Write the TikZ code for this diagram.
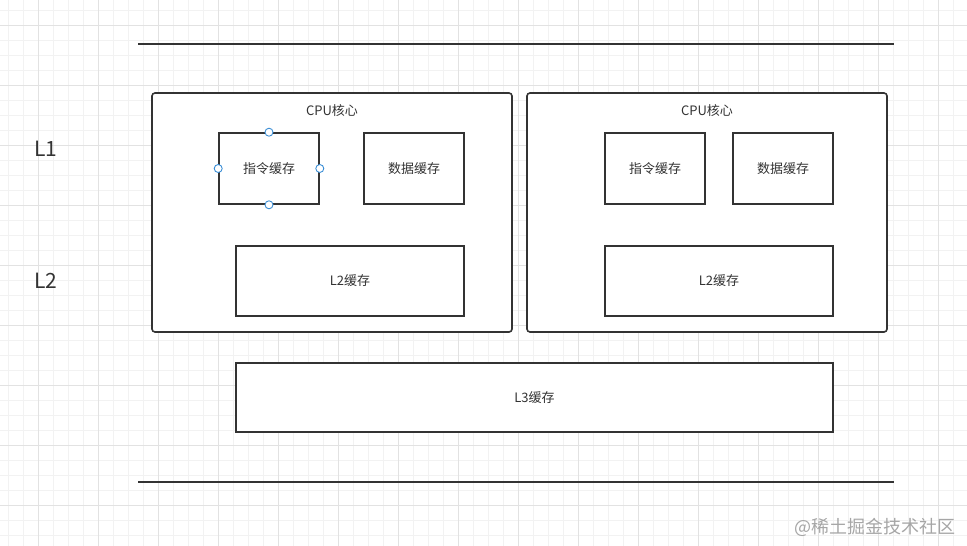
\documentclass[tikz,border=0pt]{standalone}
\usepackage{fontspec}
\setmainfont{Noto Sans CJK SC}
\usepackage{tikz}
\usetikzlibrary{positioning}
\definecolor{inkgray}{HTML}{333333}
\definecolor{gridminor}{HTML}{F2F2F2}
\definecolor{gridmajor}{HTML}{E2E2E2}
\definecolor{handleblue}{HTML}{3D8FD6}

\begin{document}
\begin{tikzpicture}[
			x=1pt, y=-1pt,
			core/.style  = {draw=inkgray, line width=1.6pt, fill=white, rounded corners=3pt, minimum width=360pt, minimum height=239pt},
			cache/.style = {draw=inkgray, line width=1.6pt, fill=white, font=\fontsize{13}{15}\selectfont, text=inkgray, inner sep=0pt},
			handle/.style = {circle, draw=handleblue, fill=white, line width=0.9pt, minimum size=8pt, inner sep=0pt},
			level/.style = {font=\fontsize{21}{24}\selectfont, text=inkgray},
			title/.style = {font=\fontsize{13}{15}\selectfont, text=inkgray},
			minorline/.style = {draw=gridminor, line width=0.8pt},
			majorline/.style = {draw=gridmajor, line width=0.8pt}
			]
			
			\useasboundingbox (0,0) rectangle (967,546);
			
			%% ── Grid background ──────────────────────────────────────────
			\foreach \x in {8,23,...,967} \draw[minorline] (\x,0) -- (\x,546);
			\foreach \y in {10,25,...,546} \draw[minorline] (0,\y) -- (967,\y);
			\foreach \x in {38,98,...,967} \draw[majorline] (\x,0) -- (\x,546);
			\foreach \y in {25,85,...,546} \draw[majorline] (0,\y) -- (967,\y);
			
			%% ── Bounding lines ───────────────────────────────────────────
			\coordinate (topl) at (138,44);
			\coordinate (topr) at (894,44);
			\coordinate (botl) at (138,482);
			\coordinate (botr) at (894,482);
			\draw[inkgray, line width=1.6pt] (topl) -- (topr);
			\draw[inkgray, line width=1.6pt] (botl) -- (botr);
			
			% level labels
			\node [level] (lvone) at (46,149) {L1};
			\node [level] (lvtwo) at (46,281) {L2};
			
			%% ── Core 1 ───────────────────────────────────────────────────
			\node [core] (core1) at (332,212.5) {};
			\node [title] (name1) at (332,111) {CPU核心};
			\node [cache, minimum width=100pt, minimum height=71pt] (icache1) at (269,168.5) {指令缓存};
			\node [cache, minimum width=100pt, minimum height=71pt] (dcache1) at (414,168.5) {数据缓存};
			\node [cache, minimum width=228pt, minimum height=70pt] (ltwo1) at (350,281) {L2缓存};
			
			% selection handles
			\node [handle] (hn) at (icache1.north) {};
			\node [handle] (hs) at (icache1.south) {};
			\node [handle] (he) at (icache1.east) {};
			\node [handle] (hw) at (icache1.west) {};
			
			%% ── Core 2 ───────────────────────────────────────────────────
			\node [core] (core2) at (707,212.5) {};
			\node [title] (name2) at (707,111) {CPU核心};
			\node [cache, minimum width=100pt, minimum height=71pt] (icache2) at (655,168.5) {指令缓存};
			\node [cache, minimum width=100pt, minimum height=71pt] (dcache2) at (783,168.5) {数据缓存};
			\node [cache, minimum width=228pt, minimum height=70pt] (ltwo2) at (719,281) {L2缓存};
			
			%% ── Shared L3 ────────────────────────────────────────────────
			\node [cache, minimum width=597pt, minimum height=69pt] (lthree) at (534.5,397.5) {L3缓存};
			
			% watermark
			\node [font=\fontsize{18}{20}\selectfont, text=black!35] (mark) at (875,527) {@稀土掘金技术社区};
			
		\end{tikzpicture}
\end{document}
